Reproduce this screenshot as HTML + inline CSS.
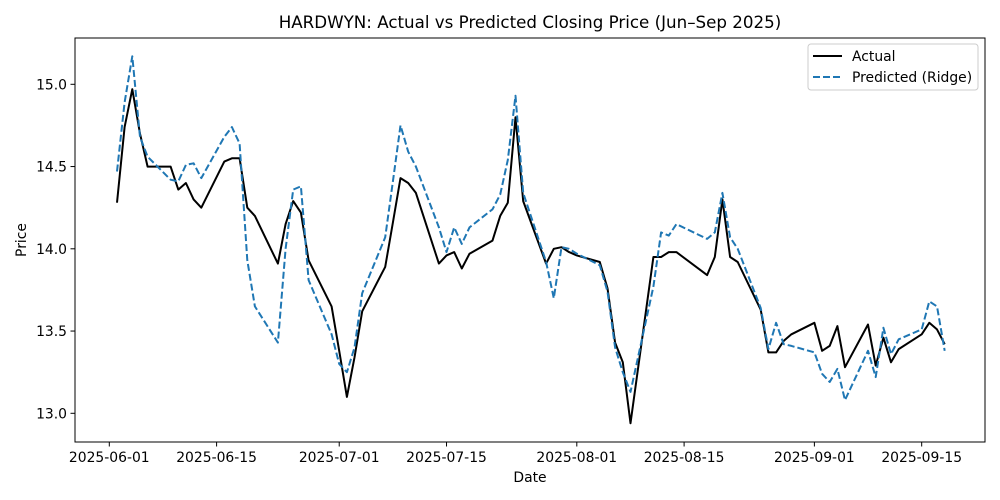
<!DOCTYPE html>
<html><head><meta charset="utf-8">
<style>
html,body{margin:0;padding:0;background:#fff;}
svg{display:block;font-family:"DejaVu Sans","Liberation Sans",sans-serif;}
</style></head>
<body>
<svg id="chart" width="1000" height="500" viewBox="0 0 1000 500" xmlns="http://www.w3.org/2000/svg">
<rect x="0" y="0" width="1000" height="500" fill="#fff"/>
<text x="530" y="28" text-anchor="middle" font-size="16.7">HARDWYN: Actual vs Predicted Closing Price (Jun–Sep 2025)</text>
<g id="xticks"></g><g id="yticks"></g>
<g id="series"></g>
<rect x="75" y="38" width="910" height="404" fill="none" stroke="#000" stroke-width="1"/>
<text x="530" y="482" text-anchor="middle" font-size="13.9">Date</text>
<text transform="translate(26,240) rotate(-90)" text-anchor="middle" font-size="13.9">Price</text>
<g>
<rect x="808" y="44" width="170" height="46" rx="3" fill="#fff" stroke="#ccc" stroke-width="1"/>
<line x1="813" y1="56" x2="842" y2="56" stroke="#000" stroke-width="2"/>
<text x="852" y="61" font-size="13.9">Actual</text>
<line x1="813" y1="77" x2="842" y2="77" stroke="#1f77b4" stroke-width="2" stroke-dasharray="7,3"/>
<text x="852" y="82" font-size="13.9">Predicted (Ridge)</text>
</g>
</svg>
<script>
const dates = ["2025-06-02","2025-06-03","2025-06-04","2025-06-05","2025-06-06","2025-06-09","2025-06-10","2025-06-11","2025-06-12","2025-06-13","2025-06-16","2025-06-17","2025-06-18","2025-06-19","2025-06-20","2025-06-23","2025-06-24","2025-06-25","2025-06-26","2025-06-27","2025-06-30",
"2025-07-01","2025-07-02","2025-07-03","2025-07-04","2025-07-07","2025-07-08","2025-07-09","2025-07-10","2025-07-11","2025-07-14","2025-07-15","2025-07-16","2025-07-17","2025-07-18","2025-07-21","2025-07-22","2025-07-23","2025-07-24","2025-07-25","2025-07-28","2025-07-29","2025-07-30","2025-07-31",
"2025-08-01","2025-08-04","2025-08-05","2025-08-06","2025-08-07","2025-08-08","2025-08-11","2025-08-12","2025-08-13","2025-08-14","2025-08-18","2025-08-19","2025-08-20","2025-08-21","2025-08-22","2025-08-25","2025-08-26","2025-08-27","2025-08-28","2025-08-29",
"2025-09-01","2025-09-02","2025-09-03","2025-09-04","2025-09-05","2025-09-08","2025-09-09","2025-09-10","2025-09-11","2025-09-12","2025-09-15","2025-09-16","2025-09-17","2025-09-18"];
const actual = [14.28,14.74,14.97,14.70,14.50,14.50,14.36,14.40,14.30,14.25,14.53,14.55,14.55,14.25,14.20,13.91,14.15,14.29,14.22,13.93,13.65,
13.38,13.10,13.34,13.62,13.89,14.16,14.43,14.40,14.34,13.91,13.96,13.98,13.88,13.97,14.05,14.20,14.28,14.80,14.29,13.91,14.00,14.01,13.98,
13.96,13.92,13.76,13.43,13.31,12.94,13.95,13.95,13.98,13.98,13.84,13.95,14.30,13.95,13.92,13.63,13.37,13.37,13.44,13.48,
13.55,13.38,13.41,13.53,13.28,13.54,13.29,13.46,13.31,13.39,13.48,13.55,13.51,13.42];
const predicted = [14.47,14.89,15.17,14.68,14.56,14.42,14.41,14.51,14.52,14.43,14.68,14.74,14.64,13.93,13.65,13.43,14.00,14.36,14.38,13.81,13.48,
13.30,13.25,13.40,13.73,14.07,14.41,14.75,14.59,14.50,14.13,13.98,14.13,14.03,14.13,14.24,14.33,14.54,14.93,14.34,13.92,13.70,14.01,14.00,
13.97,13.90,13.74,13.40,13.25,13.13,13.77,14.10,14.08,14.15,14.06,14.10,14.34,14.07,14.00,13.64,13.39,13.55,13.42,13.41,
13.37,13.24,13.19,13.27,13.08,13.38,13.22,13.52,13.36,13.45,13.51,13.68,13.65,13.38];
const xTickLabels = ["2025-06-01","2025-06-15","2025-07-01","2025-07-15","2025-08-01","2025-08-15","2025-09-01","2025-09-15"];
const yTickValues = [13.0,13.5,14.0,14.5,15.0];

const NS = "http://www.w3.org/2000/svg";
const day0 = Date.UTC(2025,5,1);
function dayOf(s){const p=s.split("-");return (Date.UTC(+p[0],+p[1]-1,+p[2])-day0)/86400000;}
function xScale(s){return 109.3 + dayOf(s)*7.664;}
function yScale(v){return 84.3 + (15 - v)*164.5;}
function mk(tag, attrs){const e=document.createElementNS(NS,tag);for(const k in attrs)e.setAttribute(k,attrs[k]);return e;}

const xg=document.getElementById("xticks");
xTickLabels.forEach(l=>{
  const x=xScale(l);
  const t=mk("line",{x1:x,y1:442,x2:x,y2:446.5,stroke:"#000","stroke-width":1});
  
  
  xg.appendChild(t);
  const tx=mk("text",{x:x,y:462,"text-anchor":"middle","font-size":"13.9"});
  
  
  tx.textContent=l; xg.appendChild(tx);
});
const yg=document.getElementById("yticks");
yTickValues.forEach(v=>{
  const y=yScale(v);
  const t=mk("line",{x1:70.5,y1:y,x2:75,y2:y,stroke:"#000","stroke-width":1});
  
  
  yg.appendChild(t);
  const tx=mk("text",{x:67,y:y+5,"text-anchor":"end","font-size":"13.9"});
  
  
  tx.textContent=v.toFixed(1); yg.appendChild(tx);
});
const sg=document.getElementById("series");
function pts(arr){return arr.map((v,i)=>xScale(dates[i]).toFixed(1)+","+yScale(v).toFixed(1)).join(" ");}
const la=mk("polyline",{points:pts(actual),fill:"none",stroke:"#000","stroke-width":2,"stroke-linejoin":"round"});


sg.appendChild(la);
const lp=mk("polyline",{points:pts(predicted),fill:"none",stroke:"#1f77b4","stroke-width":2,"stroke-dasharray":"7,3","stroke-linejoin":"round"});


sg.appendChild(lp);
</script>
</body></html>
